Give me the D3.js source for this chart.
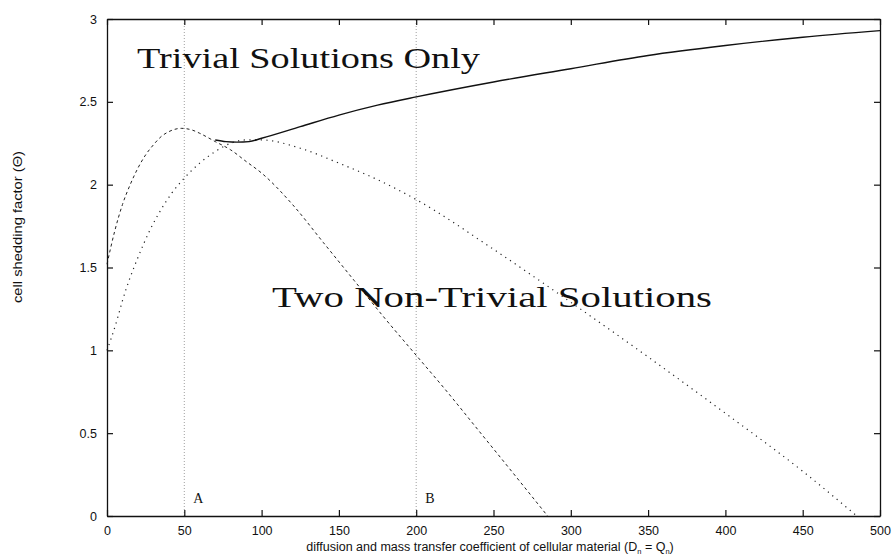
<!DOCTYPE html>
<html>
<head>
<meta charset="utf-8">
<script src="https://cdn.jsdelivr.net/npm/d3@7"></script>
<style>
  body { margin: 0; background: #fff; }
  text { fill: #111; }
</style>
</head>
<body>
<div id="chart"></div>
<script>
// Data
var xTicks = [0, 50, 100, 150, 200, 250, 300, 350, 400, 450, 500];
var yTicks = [0, 0.5, 1, 1.5, 2, 2.5, 3];
var yTickLabels = ["0", "0.5", "1", "1.5", "2", "2.5", "3"];

// dashed branch
var dashedX = [0, 5, 10, 15, 20, 25, 30, 35, 40, 48, 55, 60, 70, 80, 90, 100, 120, 140, 160, 180, 200, 220, 240, 260, 285];
var dashedY = [1.52, 1.72, 1.88, 2.0, 2.1, 2.18, 2.24, 2.29, 2.32, 2.34, 2.33, 2.31, 2.26, 2.21, 2.14, 2.07, 1.88, 1.65, 1.42, 1.19, 0.97, 0.75, 0.52, 0.29, 0];

// dotted branch
var dottedX = [0, 3, 7, 10, 15, 20, 28, 35, 42, 50, 60, 70, 80, 90, 100, 125, 150, 175, 200, 250, 300, 350, 400, 450, 485];
var dottedY = [1.0, 1.08, 1.2, 1.3, 1.44, 1.56, 1.73, 1.85, 1.95, 2.04, 2.13, 2.2, 2.25, 2.27, 2.27, 2.22, 2.13, 2.03, 1.91, 1.61, 1.29, 0.96, 0.62, 0.27, 0];

// solid boundary
var solidX = [70, 77, 84, 92, 100, 125, 150, 175, 200, 250, 300, 350, 400, 450, 500];
var solidY = [2.27, 2.26, 2.257, 2.26, 2.28, 2.35, 2.42, 2.48, 2.53, 2.62, 2.70, 2.78, 2.84, 2.89, 2.93];

var markX = [50, 200];
var markLabels = ["A", "B"];

var width = 895, height = 554;
var margin = { left: 107, right: 15, top: 19, bottom: 38 };

var svg = d3.select("#chart").append("svg")
    .attr("width", width)
    .attr("height", height);

var x = d3.scaleLinear().domain([0, 500]).range([margin.left, width - margin.right]);
var y = d3.scaleLinear().domain([0, 3]).range([height - margin.bottom, margin.top]);

function zip(xs, ys) { return xs.map(function (v, i) { return [v, ys[i]]; }); }

var line = d3.line()
    .x(function (d) { return x(d[0]); })
    .y(function (d) { return y(d[1]); })
    .curve(d3.curveMonotoneX);

// Vertical marker lines
svg.selectAll(".mark")
    .data(markX)
    .enter()
    .append("line")
    .attr("x1", function (d) { return x(d); })
    .attr("x2", function (d) { return x(d); })
    .attr("y1", y(0))
    .attr("y2", y(3))
    .attr("stroke", "#888")
    .attr("stroke-width", 0.8)
    .attr("stroke-dasharray", "1,2");

svg.selectAll(".markLabel")
    .data(markX)
    .enter()
    .append("text")
    .attr("x", function (d) { return x(d) + 9; })
    .attr("y", y(0) - 13)
    .attr("font-family", "Liberation Serif, serif")
    .attr("font-size", 14)
    .text(function (d, i) { return markLabels[i]; });

// Curves
svg.append("path")
    .datum(zip(dashedX, dashedY))
    .attr("d", line)
    .attr("fill", "none")
    .attr("stroke", "#222")
    .attr("stroke-width", 1)
    .attr("stroke-dasharray", "3,3");

svg.append("path")
    .datum(zip(dottedX, dottedY))
    .attr("d", line)
    .attr("fill", "none")
    .attr("stroke", "#222")
    .attr("stroke-width", 1.2)
    .attr("stroke-dasharray", "1.2,4.5");

svg.append("path")
    .datum(zip(solidX, solidY))
    .attr("d", line)
    .attr("fill", "none")
    .attr("stroke", "#111")
    .attr("stroke-width", 1.4);

// Axes: ticks on all four sides, pointing inward
var tickFont = "Liberation Sans, Arial, sans-serif";

svg.append("g")
    .attr("transform", "translate(0," + y(0) + ")")
    .call(d3.axisBottom(x).tickValues(xTicks).tickSizeInner(-6).tickSizeOuter(0).tickPadding(10));

svg.append("g")
    .attr("transform", "translate(" + x(0) + ",0)")
    .call(d3.axisLeft(y).tickValues(yTicks).tickSizeInner(-6).tickSizeOuter(0).tickPadding(10)
        .tickFormat(function (d, i) { return yTickLabels[i]; }));

svg.append("g")
    .attr("transform", "translate(0," + y(3) + ")")
    .call(d3.axisTop(x).tickValues(xTicks).tickSizeInner(-6).tickSizeOuter(0).tickFormat(""));

svg.append("g")
    .attr("transform", "translate(" + x(500) + ",0)")
    .call(d3.axisRight(y).tickValues(yTicks).tickSizeInner(-6).tickSizeOuter(0).tickFormat(""));

svg.selectAll(".domain").attr("stroke", "#111").attr("stroke-width", 1.3);
svg.selectAll(".tick line").attr("stroke", "#111").attr("stroke-width", 1.2);
svg.selectAll(".tick text")
    .attr("font-family", tickFont)
    .attr("font-size", 12.5)
    .attr("fill", "#111");

// Region labels
svg.append("text")
    .attr("x", 137)
    .attr("y", 68)
    .attr("font-family", "Liberation Serif, serif")
    .attr("font-size", 29)
    .attr("textLength", 343)
    .attr("lengthAdjust", "spacingAndGlyphs")
    .text("Trivial Solutions Only");

svg.append("text")
    .attr("x", 272)
    .attr("y", 307)
    .attr("font-family", "Liberation Serif, serif")
    .attr("font-size", 30)
    .attr("textLength", 440)
    .attr("lengthAdjust", "spacingAndGlyphs")
    .text("Two Non-Trivial Solutions");

// Axis titles
var xTitle = svg.append("text")
    .attr("x", 490)
    .attr("y", 551)
    .attr("text-anchor", "middle")
    .attr("font-family", tickFont)
    .attr("font-size", 12.5);
xTitle.append("tspan").text("diffusion and mass transfer coefficient of cellular material (D");
xTitle.append("tspan").attr("font-size", 7.5).attr("dy", 2.5).text("n");
xTitle.append("tspan").attr("dy", -2.5).text(" = Q");
xTitle.append("tspan").attr("font-size", 7.5).attr("dy", 2.5).text("n");
xTitle.append("tspan").attr("dy", -2.5).text(")");

svg.append("text")
    .attr("transform", "translate(22,227) rotate(-90)")
    .attr("text-anchor", "middle")
    .attr("font-family", tickFont)
    .attr("font-size", 13)
    .attr("textLength", 152)
    .attr("lengthAdjust", "spacingAndGlyphs")
    .text("cell shedding factor (\u0398)");
</script>
</body>
</html>
